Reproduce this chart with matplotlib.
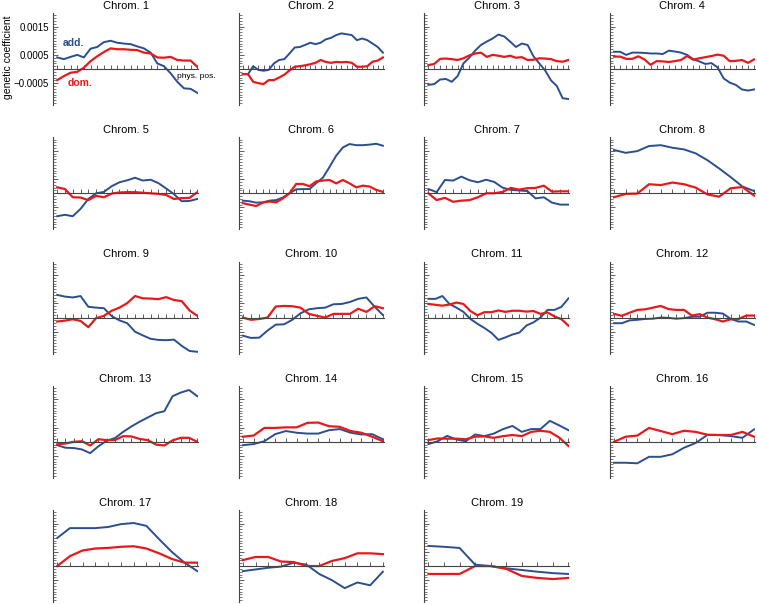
import matplotlib.pyplot as plt
import numpy as np
from matplotlib.ticker import FixedLocator, MultipleLocator

plt.rcParams['font.family'] = ['Liberation Sans', 'DejaVu Sans']

# genetic coefficients along each chromosome (equally spaced positions)
add_c1 = [0.00041, 0.00035, 0.00043, 0.0005, 0.00041, 0.00072, 0.00078, 0.00095, 0.001, 0.00093, 0.0009,
          0.00088, 0.0008, 0.00073, 0.00058, 0.0002, 0.0001, -0.00015, -0.00045, -0.00068, -0.0007, -0.00084]
dom_c1 = [-0.00039, -0.00025, -0.00013, -0.0001, 0.00005, 0.00028, 0.00045, 0.0006, 0.00073, 0.0007, 0.0007,
          0.00068, 0.00067, 0.00058, 0.00055, 0.00041, 0.0004, 0.00043, 0.00032, 0.0003, 0.0003, 0.00008]
add_c2 = [-0.00018, -0.00018, 0.0001, -0.00003, -0.00006, -0.00003, 0.0002, 0.00032, 0.00035, 0.00055, 0.00076,
          0.00078, 0.00085, 0.00093, 0.00088, 0.00093, 0.00105, 0.0011, 0.0012, 0.00126, 0.00123, 0.0012,
          0.00102, 0.00108, 0.00102, 0.0009, 0.00078, 0.00058]
dom_c2 = [-0.00018, -0.00018, -0.00045, -0.0005, -0.00053, -0.00039, -0.00039, -0.0003, -0.0002, -0.00005, 0.00008,
          0.0001, 0.00013, 0.00017, 0.00022, 0.00032, 0.00025, 0.00022, 0.00025, 0.00024, 0.00025, 0.00022,
          0.00008, 0.00008, 0.0001, 0.00026, 0.0003, 0.00041]
add_c3 = [-0.00056, -0.00053, -0.00037, -0.00035, -0.00045, -0.00025, 0.0002, 0.0004, 0.00065, 0.00085, 0.00097,
          0.00108, 0.00122, 0.00115, 0.00097, 0.00078, 0.0009, 0.00085, 0.00045, 0.0002, -0.00005, -0.0004,
          -0.0006, -0.00103, -0.00106]
dom_c3 = [0.00014, 0.00018, 0.00036, 0.00037, 0.00035, 0.00032, 0.00038, 0.00048, 0.00055, 0.00058, 0.00043,
          0.0005, 0.00047, 0.00043, 0.00047, 0.0004, 0.00042, 0.00032, 0.00033, 0.00038, 0.00037, 0.00035,
          0.00028, 0.00026, 0.00032]
add_c4 = [0.00061, 0.00061, 0.0005, 0.00058, 0.00058, 0.00057, 0.00055, 0.00055, 0.00053, 0.00065, 0.00062,
          0.00058, 0.0005, 0.00035, 0.00027, 0.00018, 0.00021, 0.00006, -0.00033, -0.00048, -0.00056, -0.00072,
          -0.00076, -0.00072]
dom_c4 = [0.00044, 0.00044, 0.00036, 0.00036, 0.00045, 0.00034, 0.00015, 0.00028, 0.00027, 0.00025, 0.00028,
          0.00032, 0.00046, 0.00033, 0.00038, 0.00042, 0.00046, 0.00051, 0.00047, 0.00028, 0.00029, 0.00032,
          0.00022, 0.00034]
add_c5 = [-0.00081, -0.00076, -0.00081, -0.00055, -0.0002, 0.0, 0.00005, 0.00025, 0.00039, 0.00046, 0.00055,
          0.00045, 0.00048, 0.00036, 0.00017, -0.00003, -0.00028, -0.00027, -0.0002]
dom_c5 = [0.00021, 0.00015, -0.00014, -0.00015, -0.00024, -0.00009, -0.00014, -0.00001, 0.00003, 0.00004, 0.00004,
          0.00002, 0.0, -0.00002, -0.00006, -0.0002, -0.00017, -0.00016, 0.00004]
add_c6 = [-0.00026, -0.00028, -0.00033, -0.00032, -0.00026, -0.00024, -0.00015, 0.0, 0.00014, 0.00015, 0.00015,
          0.00036, 0.00055, 0.00093, 0.00133, 0.00162, 0.00174, 0.0017, 0.0017, 0.00172, 0.00175, 0.00168]
dom_c6 = [-0.00035, -0.0004, -0.00045, -0.00033, -0.00029, -0.00032, -0.00018, 0.0, 0.00033, 0.00033, 0.00025,
          0.00042, 0.00045, 0.00047, 0.00035, 0.00047, 0.00035, 0.00021, 0.00027, 0.00024, 0.00012, 0.00005]
add_c7 = [0.00015, 0.00004, 0.00047, 0.00045, 0.00059, 0.00046, 0.00039, 0.00048, 0.0004, 0.0002, 0.00012,
          0.0001, 0.00008, -0.00018, -0.00014, -0.00033, -0.0004, -0.0004]
dom_c7 = [0.0, -0.00024, -0.00016, -0.0003, -0.00026, -0.00024, -0.00014, 0.0, 0.0, 0.00005, 0.00019,
          0.00013, 0.00018, 0.00019, 0.00027, 0.00006, 0.00007, 0.00007]
add_c8 = [0.00153, 0.00143, 0.00149, 0.00167, 0.0017, 0.00161, 0.00155, 0.00141, 0.00117, 0.00088, 0.00057,
          0.00024, 0.00008]
dom_c8 = [-0.00014, -0.00002, -0.00001, 0.00032, 0.00029, 0.00038, 0.00032, 0.0002, -0.00004, -0.00012, 0.00018,
          0.00022, -0.00008]
add_c9 = [0.0008, 0.00074, 0.00071, 0.00076, 0.00038, 0.00035, 0.00033, 0.00005, -0.0001, -0.0002, -0.0005,
          -0.00063, -0.00075, -0.00079, -0.0008, -0.00078, -0.001, -0.00118, -0.00121]
dom_c9 = [-0.00014, -0.00011, -0.00006, -0.00012, -0.00034, -0.00002, 0.00006, 0.00024, 0.00035, 0.00051, 0.00076,
          0.00068, 0.00067, 0.00065, 0.00072, 0.00062, 0.00058, 0.00025, 0.00006]
add_c10 = [-0.00064, -0.00072, -0.00071, -0.00046, -0.00025, -0.00024, -0.00008, 0.00015, 0.00029, 0.00033,
           0.00035, 0.00047, 0.00048, 0.00055, 0.00066, 0.00071, 0.00038, 0.00009]
dom_c10 = [0.0, -0.00008, -0.00005, 0.0, 0.00039, 0.00041, 0.0004, 0.00035, 0.00013, 0.00006, 0.0,
           0.00013, 0.00013, 0.00013, 0.00031, 0.0002, 0.0004, 0.00033]
add_c11 = [0.00066, 0.00066, 0.00076, 0.00048, 0.00035, 0.0002, -0.00005, -0.00022, -0.00037, -0.00054, -0.00079,
           -0.0007, -0.0006, -0.00053, -0.00028, -0.00017, 0.0, 0.00027, 0.00027, 0.00038, 0.00068]
dom_c11 = [0.00048, 0.00045, 0.00042, 0.00046, 0.00053, 0.00048, 0.00023, 0.00008, 0.00019, 0.00019, 0.00025,
           0.0002, 0.00024, 0.00024, 0.00021, 0.00023, 0.00013, 0.00018, 0.00004, -0.00006, -0.00029]
add_c12 = [-0.0002, -0.0002, -0.0001, -0.00008, -0.00005, -0.00004, 0.0, -0.00001, -0.00004, -0.00002, 0.00003,
           0.00003, 0.00017, 0.00017, 0.00014, -0.00005, -0.00014, -0.00014, -0.00026]
dom_c12 = [0.00013, 0.00006, 0.00017, 0.00027, 0.00029, 0.00035, 0.00041, 0.0003, 0.00027, 0.00027, 0.00007,
           0.00012, 0.0, -0.00006, -0.00014, -0.00006, -0.00005, 0.00007, 0.00007]
add_c13 = [-0.00012, -0.00021, -0.00022, -0.00027, -0.0004, -0.00016, 0.00004, 0.00013, 0.00035, 0.00054,
           0.00071, 0.00086, 0.00101, 0.00108, 0.00161, 0.00174, 0.00183, 0.00161]
dom_c13 = [-0.00009, -0.00006, 0.0, 0.00002, -0.00013, 0.00009, 0.00006, 0.00006, 0.0002, 0.00019, 0.0001,
           0.00006, -0.0001, -0.00013, 0.00005, 0.00014, 0.00014, 0.0]
add_c14 = [-0.00012, -0.00008, 0.00002, 0.00027, 0.00038, 0.00032, 0.00029, 0.00029, 0.00041, 0.00045, 0.00032,
           0.00026, 0.00027, 0.00009]
dom_c14 = [0.00018, 0.00022, 0.00049, 0.00049, 0.00051, 0.00051, 0.00067, 0.00068, 0.00055, 0.00053, 0.00038,
           0.00032, 0.00018, 0.00002]
add_c15 = [-0.00008, 0.00002, 0.00021, 0.00008, 0.00002, 0.00026, 0.0002, 0.00029, 0.00045, 0.00056, 0.00035,
           0.00045, 0.00045, 0.00074, 0.00058, 0.00041]
dom_c15 = [0.00006, 0.00012, 0.00011, 0.00011, 0.00009, 0.00018, 0.00019, 0.00014, 0.0002, 0.00024, 0.0002,
           0.00035, 0.00039, 0.00035, 0.00015, -0.00015]
add_c16 = [-0.00074, -0.00074, -0.00076, -0.00053, -0.00053, -0.00044, -0.00021, -0.00004, 0.00024, 0.00024,
           0.0002, 0.00014, 0.00044]
dom_c16 = [0.0, 0.00018, 0.00022, 0.00049, 0.00038, 0.00027, 0.00039, 0.00035, 0.00025, 0.00024, 0.00024,
           0.00035, 0.00018]
add_c17 = [0.00099, 0.00134, 0.00134, 0.00134, 0.00138, 0.00148, 0.00152, 0.00142, 0.00095, 0.0005, 0.00012,
           -0.00018]
dom_c17 = [0.0, 0.00035, 0.00055, 0.00062, 0.00064, 0.00068, 0.0007, 0.00062, 0.00045, 0.00025, 0.00012, 0.00012]
add_c18 = [-0.00018, -0.00012, -0.00006, -0.00002, 0.00012, 0.00005, -0.00028, -0.0005, -0.00078, -0.00058,
           -0.00068, -0.0002]
dom_c18 = [0.00021, 0.00032, 0.00032, 0.00016, 0.00014, 0.0, 0.0, 0.00018, 0.00028, 0.00045, 0.00045, 0.00042]
add_c19 = [0.00071, 0.00068, 0.00064, 0.00005, 0.0, -0.00008, -0.00014, -0.0002, -0.00025, -0.00028]
dom_c19 = [-0.00028, -0.00028, -0.00028, 0.0, 0.0, -0.0001, -0.00035, -0.00042, -0.00046, -0.00042]

add_all = [add_c1, add_c2, add_c3, add_c4, add_c5, add_c6, add_c7, add_c8, add_c9, add_c10,
           add_c11, add_c12, add_c13, add_c14, add_c15, add_c16, add_c17, add_c18, add_c19]
dom_all = [dom_c1, dom_c2, dom_c3, dom_c4, dom_c5, dom_c6, dom_c7, dom_c8, dom_c9, dom_c10,
           dom_c11, dom_c12, dom_c13, dom_c14, dom_c15, dom_c16, dom_c17, dom_c18, dom_c19]
titles = ['Chrom. %d' % (i + 1) for i in range(19)]

W, H = 757, 604
blue = '#2b4f8e'
red = '#e8191c'
axc = '#444444'

fig = plt.figure(figsize=(W / 100, H / 100), dpi=100)

for k in range(19):
    r, c = divmod(k, 4)
    left = 53 + c * 185.6
    zero = 69 + r * 124.25
    ax = fig.add_axes([left / W, (H - zero - 36) / H, 145 / W, 92 / H])
    ax.patch.set_visible(False)
    n = len(add_all[k])
    x = np.arange(n)
    ax.plot(x, add_all[k], color=blue, lw=1.4, solid_joinstyle='round')
    ax.plot(x, dom_all[k], color=red, lw=1.6, solid_joinstyle='round')
    ax.set_xlim(-0.03 * (n - 1), (n - 1) * 1.005)
    ax.set_ylim(-0.00127, 0.00198)

    for s in ['top', 'right']:
        ax.spines[s].set_visible(False)
    ax.spines['bottom'].set_position(('data', 0))
    for s in ['left', 'bottom']:
        ax.spines[s].set_color(axc)
        ax.spines[s].set_linewidth(0.8)

    ax.set_xticks(x)
    ax.set_xticklabels([])
    ax.tick_params(axis='x', direction='in', length=3, width=0.6, color=axc)
    ax.yaxis.set_major_locator(FixedLocator([-0.0005, 0.0005, 0.0015]))
    ax.yaxis.set_minor_locator(MultipleLocator(0.0001))
    ax.tick_params(axis='y', which='major', direction='in', length=3.5, width=0.6, color=axc,
                   labelsize=7, pad=3)
    ax.tick_params(axis='y', which='minor', direction='in', length=1.8, width=0.5, color=axc)
    if k == 0:
        ax.set_yticklabels(['\u22120.0005', '0.0005', '0.0015'])
        ax.text(0.07, 0.675, 'add.', color=blue, fontsize=7.5, fontweight='bold',
                transform=ax.transAxes, va='center')
        ax.text(0.10, 0.24, 'dom.', color=red, fontsize=7.5, fontweight='bold',
                transform=ax.transAxes, va='center')
        ax.text(0.855, 0.315, 'phys. pos.', color='black', fontsize=6,
                transform=ax.transAxes, va='center')
    else:
        ax.set_yticklabels([])
    ax.set_title(titles[k], fontsize=8, pad=3)

fig.text(8 / W, 1 - 57 / H, 'genetic coefficient', rotation=90, fontsize=7.5,
         ha='center', va='center')

plt.savefig('out.png', dpi=100)
